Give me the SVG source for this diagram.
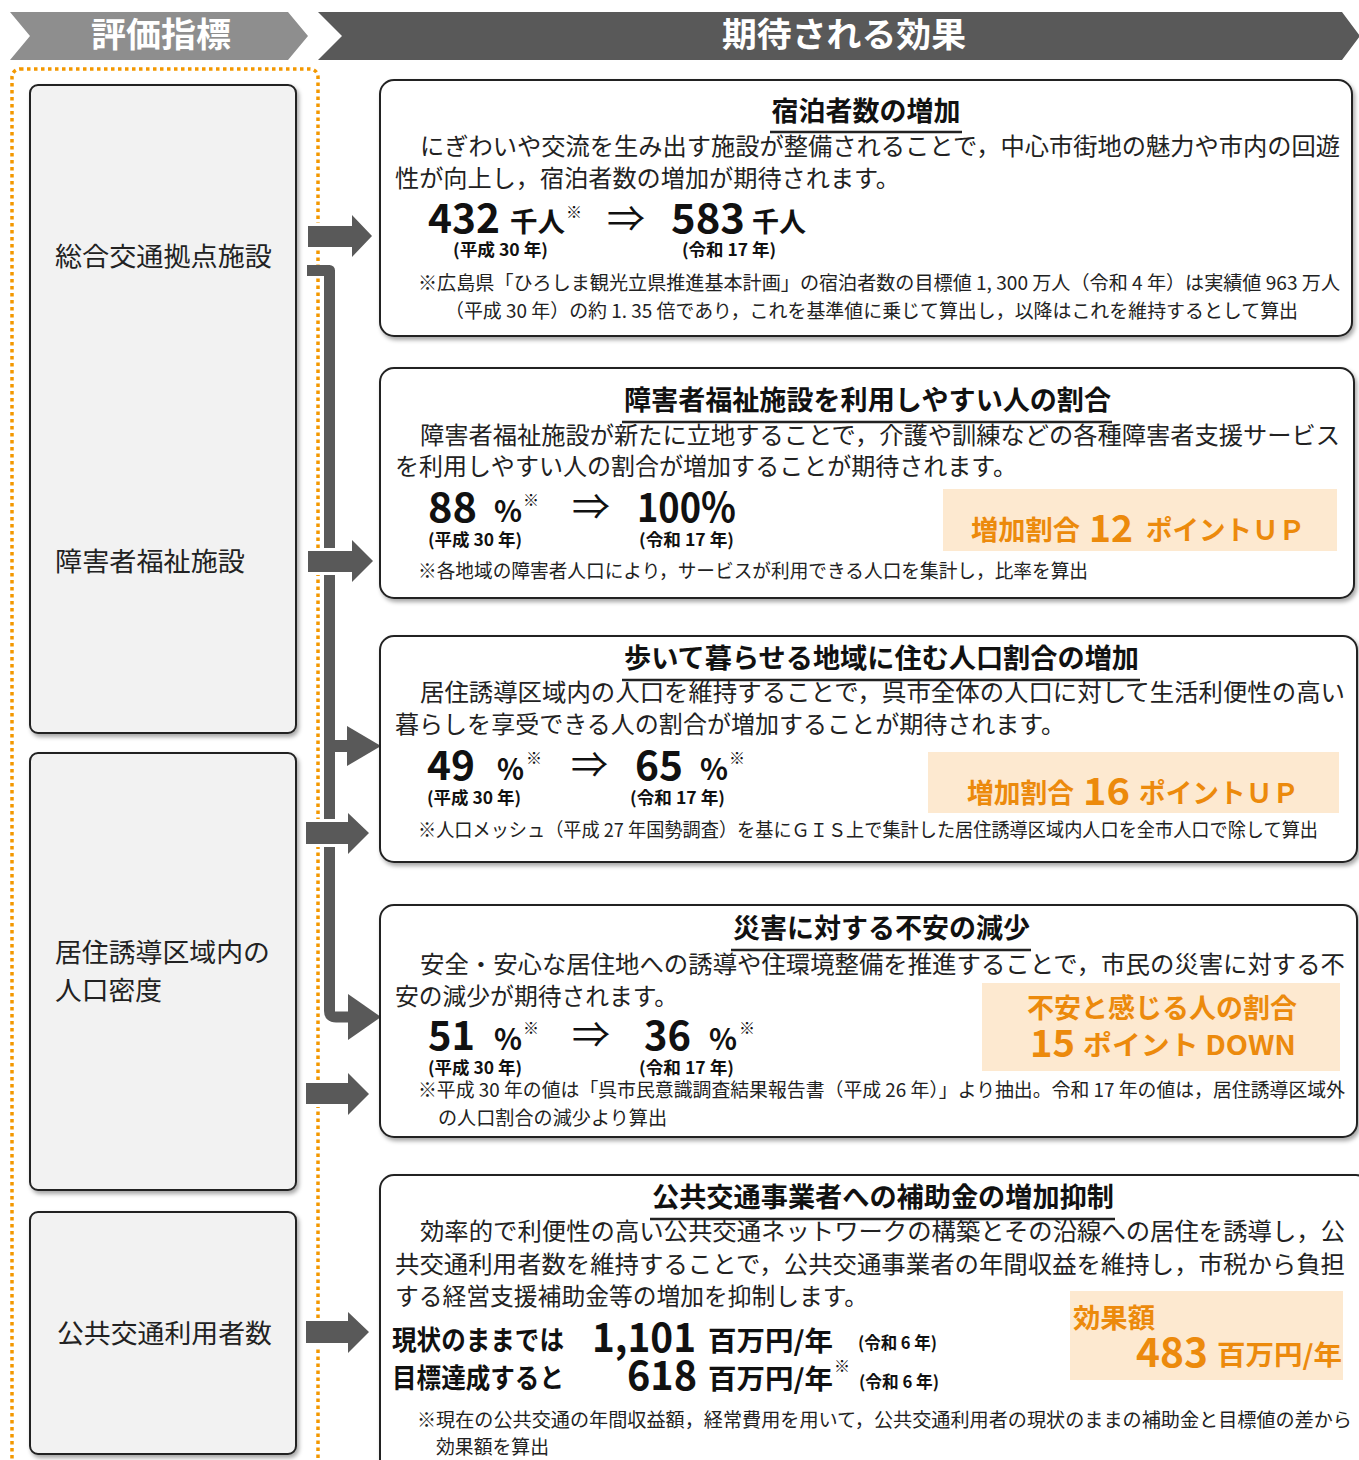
<svg xmlns="http://www.w3.org/2000/svg" width="1359" height="1460" viewBox="0 0 1359 1460">
<defs>
<filter id="sh" x="-5%" y="-5%" width="112%" height="112%">
<feDropShadow dx="2" dy="3" stdDeviation="2" flood-color="#000" flood-opacity="0.35"/>
</filter>
<style>
text{font-family:'Noto Sans CJK JP','Noto Sans',sans-serif;}
.hd{font-size:34px;font-weight:700;fill:#fff;}
.lbl{font-size:26px;fill:#222;}
.body{font-size:24px;fill:#222;}
.ttl{font-size:27px;font-weight:700;fill:#111;}
.num{font-size:40px;font-weight:700;fill:#111;}
.unit{font-size:27px;font-weight:700;fill:#111;}
.pct{font-size:30px;font-weight:700;fill:#111;}
.sup{font-size:16px;fill:#111;}
.arr{font-size:36px;fill:#111;}
.yr{font-size:17px;font-weight:700;fill:#111;}
.note{font-size:19px;fill:#222;}
.or{fill:#ec8a0c;font-weight:700;}
.lbox{fill:#f2f2f2;stroke:#222;stroke-width:2;filter:url(#sh);}
.rbox{fill:#fff;stroke:#222;stroke-width:2;filter:url(#sh);}
.obox{fill:#fde9d0;}
.ul{stroke:#222;stroke-width:2.5;}
.ga{fill:#595959;stroke:#fff;stroke-width:6;paint-order:stroke;stroke-linejoin:miter;}
.gh{fill:#595959;}
</style>
</defs>
<rect width="1359" height="1460" fill="#fff"/>

<g id="header">
<polygon points="10,12 288,12 308,36 288,60 10,60 30,36" fill="#8e8e8e"/>
<text class="hd" x="161" y="47" text-anchor="middle" textLength="140" lengthAdjust="spacingAndGlyphs">評価指標</text>
<polygon points="318,12 1342,12 1360,36 1342,60 318,60 342,36" fill="#595959"/>
<text class="hd" x="844" y="47" text-anchor="middle" textLength="244" lengthAdjust="spacingAndGlyphs">期待される効果</text>
</g>

<rect id="frame" x="12" y="69" width="306" height="1420" rx="8" fill="none" stroke="#f39800" stroke-width="3.5" stroke-dasharray="3.5 3.5"/>

<g id="left1">
<rect class="lbox" x="30" y="85" width="266" height="648" rx="8"/>
<text class="lbl" x="55" y="266" textLength="217" lengthAdjust="spacingAndGlyphs">総合交通拠点施設</text>
<text class="lbl" x="55" y="571" textLength="190" lengthAdjust="spacingAndGlyphs">障害者福祉施設</text>
</g>
<g id="left2">
<rect class="lbox" x="30" y="753" width="266" height="437" rx="8"/>
<text class="lbl" x="55" y="962" textLength="215" lengthAdjust="spacingAndGlyphs">居住誘導区域内の</text>
<text class="lbl" x="55" y="1000" textLength="107" lengthAdjust="spacingAndGlyphs">人口密度</text>
</g>
<g id="left3">
<rect class="lbox" x="30" y="1212" width="266" height="242" rx="8"/>
<text class="lbl" x="57" y="1343" textLength="215" lengthAdjust="spacingAndGlyphs">公共交通利用者数</text>
</g>

<g id="connectors">
<path d="M307 270.5 H329.5 V1011 Q329.5 1017 336 1017 H350" fill="none" stroke="#595959" stroke-width="11" stroke-linejoin="round"/>
<polygon class="gh" points="348,994 381,1017 348,1040"/>
<rect class="gh" x="329" y="740" width="20" height="12"/>
<polygon class="gh" points="347,726 381,746 347,766"/>
<polygon class="ga" points="308,226 352,226 352,215 372,236 352,257 352,247 308,247"/>
<polygon class="ga" points="308,551 352,551 352,540 373,561 352,582 352,572 308,572"/>
<polygon class="ga" points="306,822 348,822 348,813 369,833 348,854 348,844 306,844"/>
<polygon class="ga" points="306,1083 348,1083 348,1073 369,1094 348,1115 348,1104 306,1104"/>
<polygon class="ga" points="306,1321 348,1321 348,1312 369,1332 348,1353 348,1343 306,1343"/>
</g>

<g id="effect1">
<rect class="rbox" x="380" y="80" width="972" height="256" rx="14"/>
<text class="ttl" x="866" y="121" text-anchor="middle" textLength="189" lengthAdjust="spacingAndGlyphs">宿泊者数の増加</text>
<line class="ul" x1="770" y1="132" x2="962" y2="132"/>
<text class="body" x="420" y="155" textLength="920" lengthAdjust="spacingAndGlyphs">にぎわいや交流を生み出す施設が整備されることで，中心市街地の魅力や市内の回遊</text>
<text class="body" x="395" y="187" textLength="505" lengthAdjust="spacingAndGlyphs">性が向上し，宿泊者数の増加が期待されます。</text>
<text class="num" x="428" y="233" textLength="72" lengthAdjust="spacingAndGlyphs">432</text>
<text class="unit" x="510" y="232" textLength="55" lengthAdjust="spacingAndGlyphs">千人</text>
<text class="sup" x="566" y="218">※</text>
<text class="arr" x="607" y="232" textLength="38" lengthAdjust="spacingAndGlyphs">⇒</text>
<text class="num" x="671" y="233" textLength="74" lengthAdjust="spacingAndGlyphs">583</text>
<text class="unit" x="752" y="232" textLength="54" lengthAdjust="spacingAndGlyphs">千人</text>
<text class="yr" x="453" y="256" textLength="95" lengthAdjust="spacingAndGlyphs">(平成 30 年)</text>
<text class="yr" x="682" y="256" textLength="94" lengthAdjust="spacingAndGlyphs">(令和 17 年)</text>
<text class="note" x="418" y="290" textLength="922" lengthAdjust="spacingAndGlyphs">※広島県「ひろしま観光立県推進基本計画」の宿泊者数の目標値 1, 300 万人（令和 4 年）は実績値 963 万人</text>
<text class="note" x="445" y="318" textLength="853" lengthAdjust="spacingAndGlyphs">（平成 30 年）の約 1. 35 倍であり，これを基準値に乗じて算出し，以降はこれを維持するとして算出</text>
</g>

<g id="effect2">
<rect class="rbox" x="380" y="368" width="974" height="230" rx="14"/>
<text class="ttl" x="867.5" y="410" text-anchor="middle" textLength="487" lengthAdjust="spacingAndGlyphs">障害者福祉施設を利用しやすい人の割合</text>
<line class="ul" x1="622" y1="422" x2="1112" y2="422"/>
<text class="body" x="420" y="444" textLength="920" lengthAdjust="spacingAndGlyphs">障害者福祉施設が新たに立地することで，介護や訓練などの各種障害者支援サービス</text>
<text class="body" x="395" y="475" textLength="622" lengthAdjust="spacingAndGlyphs">を利用しやすい人の割合が増加することが期待されます。</text>
<text class="num" x="428" y="522" textLength="49" lengthAdjust="spacingAndGlyphs">88</text>
<text class="pct" x="494" y="522" textLength="28" lengthAdjust="spacingAndGlyphs">%</text>
<text class="sup" x="523" y="506">※</text>
<text class="arr" x="572" y="520" textLength="38" lengthAdjust="spacingAndGlyphs">⇒</text>
<text class="num" x="637" y="522" textLength="99" lengthAdjust="spacingAndGlyphs">100%</text>
<text class="yr" x="428" y="546" textLength="94" lengthAdjust="spacingAndGlyphs">(平成 30 年)</text>
<text class="yr" x="639" y="546" textLength="95" lengthAdjust="spacingAndGlyphs">(令和 17 年)</text>
<rect class="obox" x="943" y="489" width="394" height="62"/>
<text class="or" x="971" y="540" font-size="27" textLength="109" lengthAdjust="spacingAndGlyphs">増加割合</text>
<text class="or" x="1089" y="542" font-size="38" textLength="44" lengthAdjust="spacingAndGlyphs">12</text>
<text class="or" x="1146" y="540" font-size="27" textLength="159" lengthAdjust="spacingAndGlyphs">ポイントＵＰ</text>
<text class="note" x="418" y="578" textLength="670" lengthAdjust="spacingAndGlyphs">※各地域の障害者人口により，サービスが利用できる人口を集計し，比率を算出</text>
</g>

<g id="effect3">
<rect class="rbox" x="380" y="636" width="977" height="226" rx="14"/>
<text class="ttl" x="881.5" y="668" text-anchor="middle" textLength="515" lengthAdjust="spacingAndGlyphs">歩いて暮らせる地域に住む人口割合の増加</text>
<line class="ul" x1="622" y1="680" x2="1140" y2="680"/>
<text class="body" x="420" y="701" textLength="925" lengthAdjust="spacingAndGlyphs">居住誘導区域内の人口を維持することで，呉市全体の人口に対して生活利便性の高い</text>
<text class="body" x="395" y="733" textLength="670" lengthAdjust="spacingAndGlyphs">暮らしを享受できる人の割合が増加することが期待されます。</text>
<text class="num" x="427" y="780" textLength="48" lengthAdjust="spacingAndGlyphs">49</text>
<text class="pct" x="497" y="780" textLength="27" lengthAdjust="spacingAndGlyphs">%</text>
<text class="sup" x="526" y="764">※</text>
<text class="arr" x="571" y="778" textLength="37" lengthAdjust="spacingAndGlyphs">⇒</text>
<text class="num" x="635" y="780" textLength="48" lengthAdjust="spacingAndGlyphs">65</text>
<text class="pct" x="700" y="780" textLength="28" lengthAdjust="spacingAndGlyphs">%</text>
<text class="sup" x="729" y="764">※</text>
<text class="yr" x="427" y="804" textLength="94" lengthAdjust="spacingAndGlyphs">(平成 30 年)</text>
<text class="yr" x="630" y="804" textLength="95" lengthAdjust="spacingAndGlyphs">(令和 17 年)</text>
<rect class="obox" x="928" y="752" width="411" height="61"/>
<text class="or" x="967" y="803" font-size="27" textLength="107" lengthAdjust="spacingAndGlyphs">増加割合</text>
<text class="or" x="1083" y="805" font-size="38" textLength="47" lengthAdjust="spacingAndGlyphs">16</text>
<text class="or" x="1139" y="803" font-size="27" textLength="160" lengthAdjust="spacingAndGlyphs">ポイントＵＰ</text>
<text class="note" x="418" y="837" textLength="900" lengthAdjust="spacingAndGlyphs">※人口メッシュ（平成 27 年国勢調査）を基にＧＩＳ上で集計した居住誘導区域内人口を全市人口で除して算出</text>
</g>

<g id="effect4">
<rect class="rbox" x="380" y="905" width="977" height="232" rx="14"/>
<text class="ttl" x="881.5" y="938" text-anchor="middle" textLength="297" lengthAdjust="spacingAndGlyphs">災害に対する不安の減少</text>
<line class="ul" x1="731" y1="950" x2="1031" y2="950"/>
<text class="body" x="420" y="973" textLength="925" lengthAdjust="spacingAndGlyphs">安全・安心な居住地への誘導や住環境整備を推進することで，市民の災害に対する不</text>
<text class="body" x="395" y="1005" textLength="283" lengthAdjust="spacingAndGlyphs">安の減少が期待されます。</text>
<rect class="obox" x="982" y="983" width="358" height="88"/>
<text class="or" x="1027" y="1018" font-size="27" textLength="270" lengthAdjust="spacingAndGlyphs">不安と感じる人の割合</text>
<text class="or" x="1030" y="1057" font-size="38" textLength="45" lengthAdjust="spacingAndGlyphs">15</text>
<text class="or" x="1083" y="1055" font-size="27" textLength="213" lengthAdjust="spacingAndGlyphs">ポイント DOWN</text>
<text class="num" x="428" y="1050" textLength="47" lengthAdjust="spacingAndGlyphs">51</text>
<text class="pct" x="494" y="1050" textLength="28" lengthAdjust="spacingAndGlyphs">%</text>
<text class="sup" x="523" y="1034">※</text>
<text class="arr" x="572" y="1048" textLength="38" lengthAdjust="spacingAndGlyphs">⇒</text>
<text class="num" x="644" y="1050" textLength="47" lengthAdjust="spacingAndGlyphs">36</text>
<text class="pct" x="709" y="1050" textLength="28" lengthAdjust="spacingAndGlyphs">%</text>
<text class="sup" x="739" y="1034">※</text>
<text class="yr" x="428" y="1074" textLength="94" lengthAdjust="spacingAndGlyphs">(平成 30 年)</text>
<text class="yr" x="639" y="1074" textLength="95" lengthAdjust="spacingAndGlyphs">(令和 17 年)</text>
<text class="note" x="418" y="1097" textLength="927" lengthAdjust="spacingAndGlyphs">※平成 30 年の値は「呉市民意識調査結果報告書（平成 26 年）」より抽出。令和 17 年の値は，居住誘導区域外</text>
<text class="note" x="438" y="1125" textLength="229" lengthAdjust="spacingAndGlyphs">の人口割合の減少より算出</text>
</g>

<g id="effect5">
<rect class="rbox" x="380" y="1175" width="990" height="310" rx="14"/>
<text class="ttl" x="883" y="1207" text-anchor="middle" textLength="462" lengthAdjust="spacingAndGlyphs">公共交通事業者への補助金の増加抑制</text>
<line class="ul" x1="650" y1="1219" x2="1115" y2="1219"/>
<text class="body" x="420" y="1240" textLength="925" lengthAdjust="spacingAndGlyphs">効率的で利便性の高い公共交通ネットワークの構築とその沿線への居住を誘導し，公</text>
<text class="body" x="395" y="1273" textLength="950" lengthAdjust="spacingAndGlyphs">共交通利用者数を維持することで，公共交通事業者の年間収益を維持し，市税から負担</text>
<text class="body" x="395" y="1305" textLength="473" lengthAdjust="spacingAndGlyphs">する経営支援補助金等の増加を抑制します。</text>
<rect class="obox" x="1070" y="1291" width="273" height="89"/>
<text class="or" x="1073" y="1328" font-size="27" textLength="82" lengthAdjust="spacingAndGlyphs">効果額</text>
<text class="or" x="1136" y="1367" font-size="40" textLength="72" lengthAdjust="spacingAndGlyphs">483</text>
<text class="or" x="1217" y="1365" font-size="27" textLength="125" lengthAdjust="spacingAndGlyphs">百万円/年</text>
<text class="unit" x="392" y="1350" textLength="172" lengthAdjust="spacingAndGlyphs">現状のままでは</text>
<text class="num" x="592" y="1352" font-size="38" textLength="104" lengthAdjust="spacingAndGlyphs">1,101</text>
<text class="unit" x="708" y="1351" textLength="125" lengthAdjust="spacingAndGlyphs">百万円/年</text>
<text class="yr" x="858" y="1349" textLength="79" lengthAdjust="spacingAndGlyphs">(令和 6 年)</text>
<text class="unit" x="392" y="1388" textLength="172" lengthAdjust="spacingAndGlyphs">目標達成すると</text>
<text class="num" x="627" y="1390" font-size="38" textLength="70" lengthAdjust="spacingAndGlyphs">618</text>
<text class="unit" x="708" y="1389" textLength="125" lengthAdjust="spacingAndGlyphs">百万円/年</text>
<text class="sup" x="834" y="1372">※</text>
<text class="yr" x="859" y="1388" textLength="80" lengthAdjust="spacingAndGlyphs">(令和 6 年)</text>
<text class="note" x="417" y="1427" textLength="935" lengthAdjust="spacingAndGlyphs">※現在の公共交通の年間収益額，経常費用を用いて，公共交通利用者の現状のままの補助金と目標値の差から</text>
<text class="note" x="436" y="1454" textLength="113" lengthAdjust="spacingAndGlyphs">効果額を算出</text>
</g>
</svg>
